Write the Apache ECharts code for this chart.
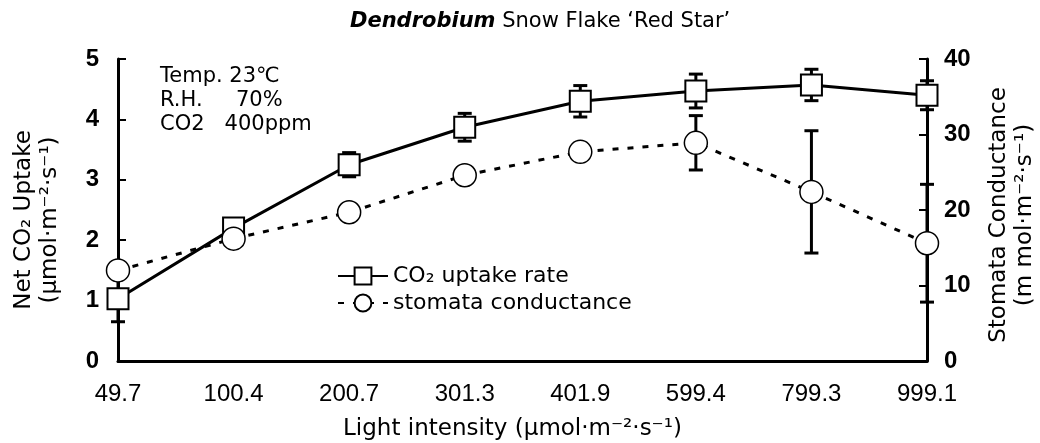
<!DOCTYPE html>
<html>
<head>
<meta charset="utf-8">
<script src="https://cdn.jsdelivr.net/npm/echarts@6/dist/echarts.min.js"></script>
<style>
html, body { margin: 0; padding: 0; background: #fff; }
#chart-0 { width: 1040px; height: 443px; }
</style>
</head>
<body>
<div id="chart-0"></div>
<script>
// light intensity categories
var lightLevels = ['49.7', '100.4', '200.7', '301.3', '401.9', '599.4', '799.3', '999.1'];
// net CO2 uptake (left axis) and its error
var co2Uptake = [1.03, 2.2, 3.25, 3.87, 4.3, 4.47, 4.57, 4.4];
var co2Err = [0.38, 0.07, 0.2, 0.23, 0.26, 0.28, 0.26, 0.24];
// stomata conductance (right axis) and its error
var stomata = [12.0, 16.2, 19.7, 24.6, 27.7, 28.9, 22.4, 15.6];
var stomataErr = [0, 0, 0, 0, 0, 3.6, 8.1, 7.8];

var font = 'Liberation Sans, Arial, sans-serif';
var narrow = 'Liberation Sans Narrow, Liberation Sans, sans-serif';
var wide = 'DejaVu Sans, sans-serif';
var chart = echarts.init(document.getElementById('chart-0'));

function errBars(values, errs, axisIdx) {
    var data = [];
    for (var i = 0; i < values.length; i++) {
        data.push([i, values[i] - errs[i], values[i] + errs[i]]);
    }
    return {
        type: 'custom',
        yAxisIndex: axisIdx,
        z: 1,
        silent: true,
        data: data,
        renderItem: function(params, api) {
            if (api.value(2) - api.value(1) <= 0) return;
            var lo = api.coord([api.value(0), api.value(1)]);
            var hi = api.coord([api.value(0), api.value(2)]);
            var w = 7;
            var st = { stroke: '#000', lineWidth: 3 };
            return {
                type: 'group',
                children: [
                    { type: 'line', shape: { x1: lo[0], y1: lo[1], x2: hi[0], y2: hi[1] }, style: st },
                    { type: 'line', shape: { x1: lo[0] - w, y1: lo[1], x2: lo[0] + w, y2: lo[1] }, style: st },
                    { type: 'line', shape: { x1: hi[0] - w, y1: hi[1], x2: hi[0] + w, y2: hi[1] }, style: st }
                ]
            };
        }
    };
}

var axisLabelStyle = { color: '#000', fontSize: 24, fontWeight: 'bold', fontFamily: font };

var option = {
    animation: false,
    backgroundColor: '#fff',
    title: {
        text: '{i|Dendrobium} Snow Flake ‘Red Star’',
        left: 345,
        top: 6,
        textStyle: {
            color: '#000', fontSize: 21, fontWeight: 'normal', fontFamily: wide,
            rich: { i: { fontSize: 21, fontStyle: 'italic', fontWeight: 'bold', fontFamily: wide } }
        }
    },
    legend: {
        orient: 'vertical',
        left: 332,
        top: 260,
        itemWidth: 50,
        itemHeight: 21,
        itemGap: 5,
        textStyle: { color: '#000', fontSize: 22, fontFamily: wide },
        data: ['CO₂ uptake rate', 'stomata conductance']
    },
    grid: { left: 118, right: 113, top: 59, bottom: 82, outerBoundsMode: 'none' },
    xAxis: {
        type: 'category',
        data: lightLevels,
        boundaryGap: false,
        axisLine: { lineStyle: { color: '#000', width: 3 } },
        axisTick: { show: false },
        axisLabel: { color: '#000', fontSize: 24, fontFamily: narrow, margin: 21 },
        name: 'Light intensity (μmol·m⁻²·s⁻¹)',
        nameLocation: 'middle',
        nameGap: 57,
        nameTextStyle: { color: '#000', fontSize: 23, fontFamily: wide, padding: [0, 20, 0, 0] }
    },
    yAxis: [{
        type: 'value',
        min: 0,
        max: 5,
        interval: 1,
        splitLine: { show: false },
        axisLine: { show: true, lineStyle: { color: '#000', width: 3 } },
        axisTick: { show: true, inside: true, length: 8, lineStyle: { color: '#000', width: 2 } },
        axisLabel: Object.assign({ margin: 19 }, axisLabelStyle)
    }, {
        type: 'value',
        min: 0,
        max: 40,
        interval: 10,
        splitLine: { show: false },
        axisLine: { show: true, lineStyle: { color: '#000', width: 3 } },
        axisTick: { show: true, inside: true, length: 8, lineStyle: { color: '#000', width: 2 } },
        axisLabel: Object.assign({ margin: 17 }, axisLabelStyle)
    }],
    graphic: [{
        type: 'text',
        left: 160,
        top: 65,
        style: {
            text: 'Temp. 23℃\nR.H.     70%\nCO2   400ppm',
            fill: '#000',
            fontSize: 21,
            lineHeight: 24,
            fontFamily: wide
        }
    }, {
        type: 'text',
        rotation: Math.PI / 2,
        x: 37,
        y: 220,
        style: {
            text: 'Net CO₂ Uptake\n(μmol·m⁻²·s⁻¹)',
            fill: '#000',
            fontSize: 23,
            lineHeight: 26,
            align: 'center',
            verticalAlign: 'middle',
            fontFamily: wide
        }
    }, {
        type: 'text',
        rotation: Math.PI / 2,
        x: 1012,
        y: 215,
        style: {
            text: 'Stomata Conductance\n(m mol·m⁻²·s⁻¹)',
            fill: '#000',
            fontSize: 23,
            lineHeight: 26,
            align: 'center',
            verticalAlign: 'middle',
            fontFamily: wide
        }
    }],
    series: [
        errBars(co2Uptake, co2Err, 0),
        errBars(stomata, stomataErr, 1),
        {
            name: 'CO₂ uptake rate',
            type: 'line',
            yAxisIndex: 0,
            z: 2,
            data: co2Uptake,
            symbol: 'rect',
            symbolSize: [21, 21],
            itemStyle: { color: '#fff', borderColor: '#000', borderWidth: 2 },
            lineStyle: { color: '#000', width: 3 }
        },
        {
            name: 'stomata conductance',
            type: 'line',
            yAxisIndex: 1,
            z: 3,
            data: stomata,
            symbol: 'circle',
            symbolSize: 23,
            itemStyle: { color: '#fff', borderColor: '#000', borderWidth: 1.5 },
            lineStyle: { color: '#000', width: 3, type: [6, 9] }
        }
    ]
};
chart.setOption(option);
</script>
</body>
</html>
